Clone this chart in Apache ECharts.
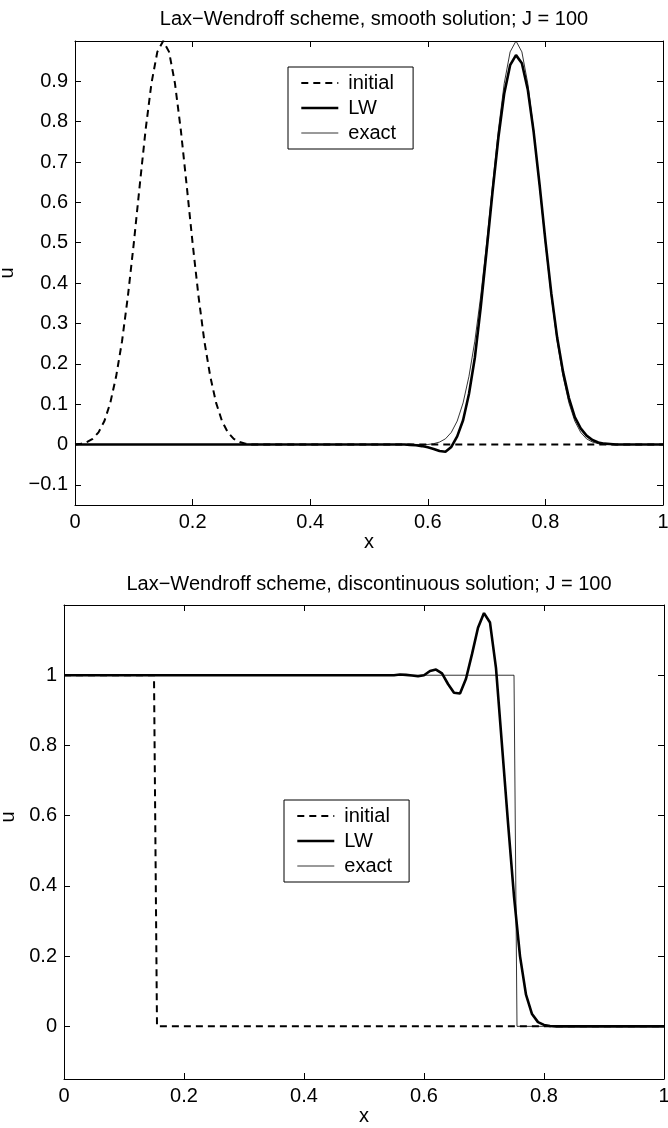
<!DOCTYPE html>
<html>
<head>
<meta charset="utf-8">
<script src="https://cdn.jsdelivr.net/npm/echarts@6/dist/echarts.min.js"></script>
<style>html,body{margin:0;padding:0;background:#fff}#c{width:668px;height:1128px}</style>
</head>
<body>
<div id="c"></div>
<script>
// ---------- data: smooth solution ----------
const smoothInitX = [0,0.01,0.02,0.03,0.04,0.05,0.06,0.07,0.08,0.09,0.10,0.11,0.12,0.13,0.14,0.15,0.16,0.17,0.18,0.19,0.20,0.21,0.22,0.23,0.24,0.25,0.26,0.27,0.28,0.29,0.30,1.0];
const smoothInitU = [0,0.002,0.006,0.014,0.030,0.058,0.103,0.169,0.256,0.368,0.499,0.641,0.779,0.895,0.973,1.0,0.973,0.895,0.779,0.641,0.499,0.368,0.256,0.169,0.103,0.058,0.030,0.014,0.006,0.002,0,0];
const smoothExactX = [0,0.60,0.61,0.62,0.63,0.64,0.65,0.66,0.67,0.68,0.69,0.70,0.71,0.72,0.73,0.74,0.75,0.76,0.77,0.78,0.79,0.80,0.81,0.82,0.83,0.84,0.85,0.86,0.87,0.88,0.89,0.90,1.0];
const smoothExactU = [0,0,0.002,0.006,0.014,0.030,0.058,0.103,0.169,0.256,0.368,0.499,0.641,0.779,0.895,0.973,1.0,0.973,0.895,0.779,0.641,0.499,0.368,0.256,0.169,0.103,0.058,0.030,0.014,0.006,0.002,0,0];
const smoothLWX = [0,0.55,0.56,0.57,0.58,0.59,0.60,0.61,0.62,0.63,0.64,0.65,0.66,0.67,0.68,0.69,0.70,0.71,0.72,0.73,0.74,0.75,0.76,0.77,0.78,0.79,0.80,0.81,0.82,0.83,0.84,0.85,0.86,0.87,0.88,0.89,0.90,0.91,0.92,1.0];
const smoothLWU = [0,0,0,-0.001,-0.002,-0.004,-0.007,-0.011,-0.016,-0.018,-0.006,0.02,0.06,0.125,0.215,0.34,0.48,0.625,0.76,0.87,0.94,0.965,0.945,0.88,0.775,0.645,0.505,0.375,0.265,0.18,0.115,0.068,0.04,0.022,0.011,0.005,0.002,0.001,0,0];

// ---------- data: discontinuous solution ----------
const stepInitX = [0,0.15,0.155,1];
const stepInitU = [1,1,0,0];
const stepExactX = [0,0.75,0.755,1];
const stepExactU = [1,1,0,0];
const stepLWX = [0,0.54,0.55,0.56,0.57,0.58,0.59,0.60,0.61,0.62,0.63,0.64,0.65,0.66,0.67,0.68,0.69,0.70,0.71,0.72,0.73,0.74,0.75,0.76,0.77,0.78,0.79,0.80,0.81,0.82,1];
const stepLWU = [1,1,1.0,1.002,1.001,0.999,0.997,1.0,1.012,1.016,1.005,0.975,0.95,0.948,0.99,1.06,1.135,1.177,1.15,1.02,0.80,0.58,0.37,0.2,0.09,0.035,0.012,0.004,0.001,0,0];

// ---------- ticks & texts ----------
const xTicks = [0,0.2,0.4,0.6,0.8,1];
const yTicksTop = [-0.1,0,0.1,0.2,0.3,0.4,0.5,0.6,0.7,0.8,0.9];
const yTicksBottom = [0,0.2,0.4,0.6,0.8,1];
const titles = ['Lax\u2212Wendroff scheme, smooth solution; J = 100','Lax\u2212Wendroff scheme, discontinuous solution; J = 100'];
const seriesNames = ['initial','LW','exact'];

const FONT = '"Liberation Sans", Arial, Helvetica, sans-serif';
const pair = (xs, ys) => xs.map((x, i) => [x, ys[i]]);
const fmt = v => { const s = String(+(+v).toFixed(3)); return s.startsWith('-') ? '\u2212' + s.slice(1) : s; };

const grids = [
  {left: 75, right: 5, top: 41, height: 464},
  {left: 64, right: 4, top: 605, height: 474}
];
const yRanges = [[-0.15, 1.0], [-0.15, 1.2]];
const yTickSets = [yTicksTop, yTicksBottom];
const uGaps = [36, 25];
const uPads = [[0, 0, 0, 0], [0, 0, 0, 50]];

const axisLine = {show: true, onZero: false, lineStyle: {color: '#000', width: 1}};
const xAxes = [], yAxes = [];
grids.forEach((g, gi) => {
  xAxes.push({
    type: 'value', gridIndex: gi, position: 'bottom', min: 0, max: 1,
    axisLine: axisLine, splitLine: {show: false},
    axisTick: {show: true, inside: true, length: 6, customValues: xTicks, lineStyle: {color: '#000'}},
    axisLabel: {show: true, customValues: xTicks, formatter: fmt, color: '#000', fontSize: 20, fontFamily: FONT, margin: 7},
    name: 'x', nameLocation: 'middle', nameGap: 26,
    nameTextStyle: {color: '#000', fontSize: 20, fontFamily: FONT}
  });
  xAxes.push({
    type: 'value', gridIndex: gi, position: 'top', min: 0, max: 1,
    axisLine: axisLine, splitLine: {show: false},
    axisTick: {show: true, inside: true, length: 6, customValues: xTicks, lineStyle: {color: '#000'}},
    axisLabel: {show: false}
  });
  yAxes.push({
    type: 'value', gridIndex: gi, position: 'left', min: yRanges[gi][0], max: yRanges[gi][1],
    axisLine: axisLine, splitLine: {show: false},
    axisTick: {show: true, inside: true, length: 6, customValues: yTickSets[gi], lineStyle: {color: '#000'}},
    axisLabel: {show: true, customValues: yTickSets[gi], formatter: fmt, color: '#000', fontSize: 20, fontFamily: FONT, margin: 7},
    name: 'u', nameLocation: 'middle', nameGap: uGaps[gi],
    nameTextStyle: {color: '#000', fontSize: 20, fontFamily: FONT, padding: uPads[gi]}
  });
  yAxes.push({
    type: 'value', gridIndex: gi, position: 'right', min: yRanges[gi][0], max: yRanges[gi][1],
    axisLine: axisLine, splitLine: {show: false},
    axisTick: {show: true, inside: true, length: 6, customValues: yTickSets[gi], lineStyle: {color: '#000'}},
    axisLabel: {show: false}
  });
});

const styles = [
  {color: '#000', width: 2, type: [7, 5]},
  {color: '#000', width: 2.6, type: 'solid'},
  {color: '#000', width: 0.8, type: 'solid'}
];
const dataSets = [
  [pair(smoothInitX, smoothInitU), pair(smoothLWX, smoothLWU), pair(smoothExactX, smoothExactU)],
  [pair(stepInitX, stepInitU), pair(stepLWX, stepLWU), pair(stepExactX, stepExactU)]
];
const series = [];
dataSets.forEach((sets, gi) => {
  sets.forEach((d, si) => {
    series.push({
      type: 'line', name: seriesNames[si], xAxisIndex: gi * 2, yAxisIndex: gi * 2,
      data: d, symbol: 'none', showSymbol: false, animation: false,
      lineStyle: styles[si], itemStyle: {color: '#000'}, z: 2 + si
    });
  });
});

const legendPos = [{left: 288, top: 67}, {left: 284, top: 800}];
const legends = legendPos.map(p => ({
  show: true, orient: 'vertical', left: p.left, top: p.top,
  data: seriesNames.map((n, i) => ({name: n, lineStyle: Object.assign({}, styles[i], {inactiveColor: '#000'})})),
  selectedMode: false,
  itemWidth: 37, itemHeight: 14, itemGap: 5,
  padding: [6, 17, 6, 12],
  borderColor: '#000', borderWidth: 1, backgroundColor: '#fff',
  itemStyle: {opacity: 0, borderWidth: 0},
  textStyle: {color: '#000', fontSize: 20, fontFamily: FONT, padding: [0, 0, 0, 5]}
}));

const chart = echarts.init(document.getElementById('c'), null, {renderer: 'canvas'});
chart.setOption({
  backgroundColor: '#fff',
  animation: false,
  title: [
    {text: titles[0], left: 369, top: 4, textAlign: 'center', textStyle: {color: '#000', fontSize: 20, fontWeight: 'normal', fontFamily: FONT}},
    {text: titles[1], left: 364, top: 569, textAlign: 'center', textStyle: {color: '#000', fontSize: 20, fontWeight: 'normal', fontFamily: FONT}}
  ],
  grid: grids.map(g => Object.assign({outerBoundsMode: 'none', containLabel: false}, g)),
  xAxis: xAxes,
  yAxis: yAxes,
  legend: legends,
  series: series
});
</script>
</body>
</html>
